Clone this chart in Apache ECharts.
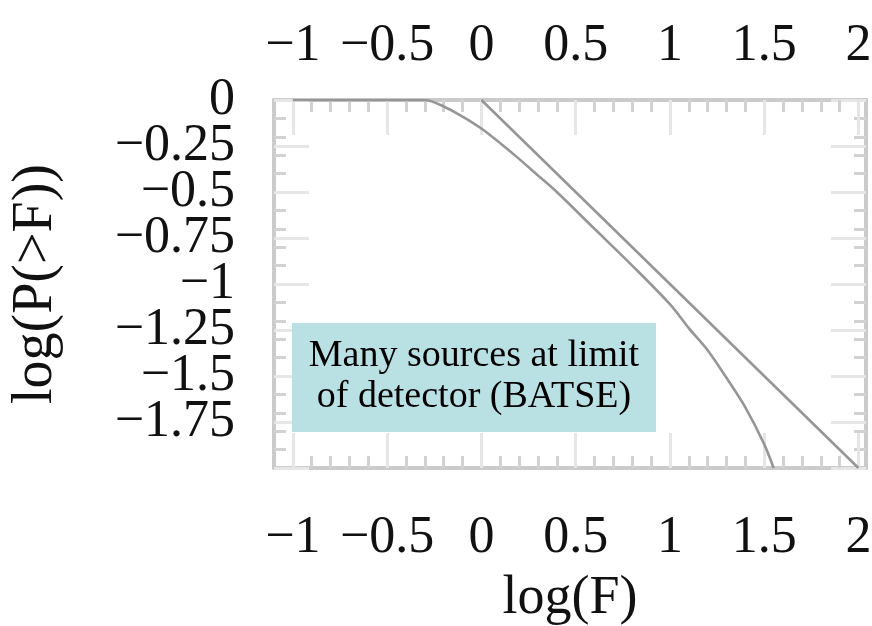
<!DOCTYPE html>
<html><head><meta charset="utf-8">
<script src="https://cdn.jsdelivr.net/npm/echarts@6/dist/echarts.min.js"></script>
<style>html,body{margin:0;padding:0;background:#fff}#c{width:872px;height:626px}</style>
</head><body><div id="c"></div>
<script>
// ---- data ----
const xTickLabels = [-1, -0.5, 0, 0.5, 1, 1.5, 2];
const yTickLabels = [0, -0.25, -0.5, -0.75, -1, -1.25, -1.5, -1.75];
const powerLawX = [0, 2];
const powerLawY = [0, -2];
const batseX = [-1, -0.3, -0.2, -0.1, 0, 0.1, 0.2, 0.3, 0.4, 0.6, 0.8, 1.0, 1.1, 1.2, 1.3, 1.4, 1.5, 1.55];
const batseY = [0, 0, -0.035, -0.09, -0.155, -0.235, -0.32, -0.41, -0.50, -0.70, -0.90, -1.11, -1.24, -1.36, -1.51, -1.67, -1.87, -2.0];
const noteLines = ['Many sources at limit', 'of detector (BATSE)'];
const xName = 'log(F)';
const yName = 'log(P(>F))';

// ---- axis decoration ----
const XMIN = -1.1, XMAX = 2.04, YMIN = -2, YMAX = 0;
const xMajor = xTickLabels.slice();
const yMajor = yTickLabels.concat([-2]);
const xMinor = [], yMinor = [];
for (let i = -10; i <= 20; i++) { if (i % 5 !== 0) xMinor.push(i / 10); }
for (let i = -19; i <= -1; i++) { if (i % 5 !== 0) yMinor.push(i / 10); }
// y labels split over two coincident axes so that no label is hidden for overlap
const yLabelsA = yTickLabels.filter((v, i) => i % 2 === 0);
const yLabelsB = yTickLabels.filter((v, i) => i % 2 === 1);

const fmtNum = v => (v < 0 ? '\u2212' : '') + String(Math.abs(v));
const FONT = 'Liberation Serif';
const labelStyle = { fontFamily: FONT, fontSize: 52, lineHeight: 40, color: '#111', hideOverlap: false, showMinLabel: true, showMaxLabel: true };
const majorTick = (vals) => ({ show: true, inside: true, length: 35, customValues: vals, lineStyle: { color: '#e6e6e6', width: 3 } });
const minorTickAx = (vals) => ({ show: true, inside: true, length: 12, customValues: vals, lineStyle: { color: '#d2d2d2', width: 3 } });
const frameLine = { show: true, onZero: false, lineStyle: { color: '#cbcbcb', width: 4 } };
const noLine = { show: false, onZero: false };

const xAxes = [
  { type: 'value', position: 'bottom', min: XMIN, max: XMAX, axisLine: frameLine, axisTick: majorTick(xMajor),
    axisLabel: Object.assign({ customValues: xTickLabels, formatter: fmtNum, margin: 50 }, labelStyle),
    splitLine: { show: false }, name: xName, nameLocation: 'middle', nameGap: 104, nameMoveOverlap: false,
    nameTextStyle: { fontFamily: FONT, fontSize: 54, lineHeight: 54, color: '#111' } },
  { type: 'value', position: 'top', min: XMIN, max: XMAX, axisLine: frameLine, axisTick: majorTick(xMajor),
    axisLabel: Object.assign({ customValues: xTickLabels, formatter: fmtNum, margin: 34 }, labelStyle),
    splitLine: { show: false } },
  { type: 'value', position: 'bottom', min: XMIN, max: XMAX, axisLine: noLine, axisTick: minorTickAx(xMinor),
    axisLabel: { show: false }, splitLine: { show: false } },
  { type: 'value', position: 'top', min: XMIN, max: XMAX, axisLine: noLine, axisTick: minorTickAx(xMinor),
    axisLabel: { show: false }, splitLine: { show: false } }
];
const yAxes = [
  { type: 'value', position: 'left', min: YMIN, max: YMAX, axisLine: frameLine, axisTick: majorTick(yMajor),
    axisLabel: Object.assign({ customValues: yLabelsA, formatter: fmtNum, margin: 39 }, labelStyle),
    splitLine: { show: false }, name: yName, nameLocation: 'middle', nameRotate: 90, nameGap: 210, nameMoveOverlap: false,
    nameTextStyle: { fontFamily: FONT, fontSize: 56, lineHeight: 56, color: '#111' } },
  { type: 'value', position: 'right', min: YMIN, max: YMAX, axisLine: frameLine, axisTick: majorTick(yMajor),
    axisLabel: { show: false }, splitLine: { show: false } },
  { type: 'value', position: 'left', min: YMIN, max: YMAX, axisLine: noLine, axisTick: minorTickAx(yMinor),
    axisLabel: Object.assign({ customValues: yLabelsB, formatter: fmtNum, margin: 39 }, labelStyle), splitLine: { show: false } },
  { type: 'value', position: 'right', min: YMIN, max: YMAX, axisLine: noLine, axisTick: minorTickAx(yMinor),
    axisLabel: { show: false }, splitLine: { show: false } }
];

const zip = (xs, ys) => xs.map((x, i) => [x, ys[i]]);
const lineStyle = { color: '#969696', width: 2.6 };

const chart = echarts.init(document.getElementById('c'), null, { renderer: 'canvas' });
chart.setOption({
  backgroundColor: '#ffffff',
  animation: false,
  grid: { left: 274, right: 6, top: 100, bottom: 158, containLabel: false, outerBoundsMode: 'none' },
  xAxis: xAxes,
  yAxis: yAxes,
  series: [
    { type: 'line', name: 'power law', xAxisIndex: 0, yAxisIndex: 0, data: zip(powerLawX, powerLawY),
      showSymbol: false, lineStyle: lineStyle, z: 3 },
    { type: 'line', name: 'BATSE', xAxisIndex: 0, yAxisIndex: 0, data: zip(batseX, batseY),
      showSymbol: false, smooth: 0.3, lineStyle: lineStyle, z: 3 }
  ],
  graphic: [
    { type: 'rect', z: 100, shape: { x: 292, y: 323, width: 364, height: 109 }, style: { fill: '#b9e0e3' } },
    { type: 'text', z: 101, x: 474, y: 377,
      style: { text: noteLines.join('\n'), font: '38px "Liberation Serif"', fill: '#000', align: 'center', verticalAlign: 'middle', lineHeight: 41 } }
  ]
});
</script>
</body></html>
